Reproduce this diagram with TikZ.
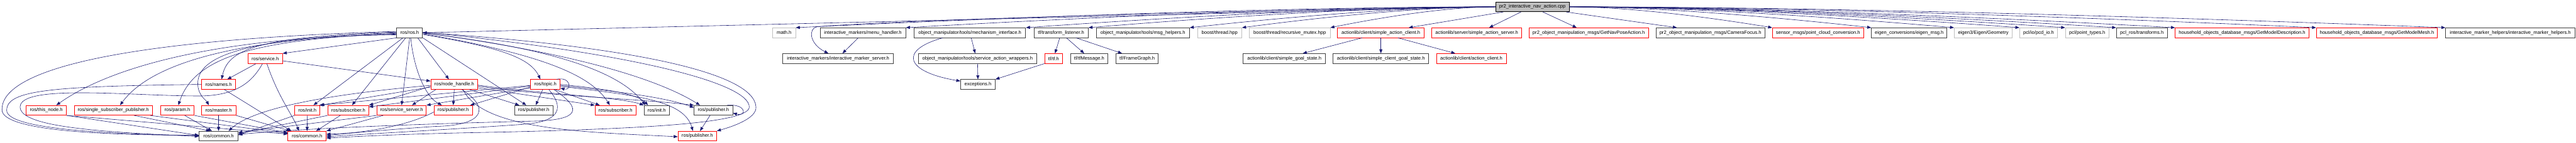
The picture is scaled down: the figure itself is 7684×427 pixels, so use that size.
\documentclass[tikz,border=0pt]{standalone}
\usepackage{fontspec}
\setmainfont{Liberation Sans}
\usetikzlibrary{arrows.meta}

\definecolor{depblue}{HTML}{191970}
\definecolor{incred}{HTML}{FF0000}
\definecolor{incgray}{HTML}{BFBFBF}
\definecolor{incdark}{HTML}{404040}

\tikzset{
  incfile/.style={draw, fill=white, line width=1.6pt, inner sep=0pt,
    minimum height=29pt, minimum width=#1pt,
    font=\fontsize{14.3}{17}\selectfont},
  redfile/.style={incfile=#1, draw=incred},
  docfile/.style={incfile=#1, draw=incdark},
  sysfile/.style={incfile=#1, draw=incgray},
  rootfile/.style={incfile=#1, draw=black, fill=incgray},
  dep/.style={draw=depblue, line width=1.1pt, -{Triangle[length=12pt,width=9pt]}}
}

\begin{document}
\begin{tikzpicture}[x=1pt,y=-1pt]
\useasboundingbox (0,0) rectangle (7684,427);

\node[rootfile=220] (root) at (4571,20.5) {pr2\_interactive\_nav\_action.cpp};

% direct includes
\node[docfile=77]  (ros)  at (1222,98) {ros/ros.h};
\node[sysfile=68]  (math) at (2339,98) {math.h};
\node[docfile=255] (menu) at (2574,98) {interactive\_markers/menu\_handler.h};
\node[docfile=333] (mech) at (2893,98) {object\_manipulator/tools/mechanism\_interface.h};
\node[docfile=162] (tfl)  at (3165,98) {tf/transform\_listener.h};
\node[docfile=278] (msgh) at (3409,98) {object\_manipulator/tools/msg\_helpers.h};
\node[sysfile=132] (bthr) at (3638,98) {boost/thread.hpp};
\node[sysfile=241] (bmtx) at (3847,98) {boost/thread/recursive\_mutex.hpp};
\node[redfile=258] (sac)  at (4119,98) {actionlib/client/simple\_action\_client.h};
\node[redfile=268] (sas)  at (4405,98) {actionlib/server/simple\_action\_server.h};
\node[redfile=357] (gnpa) at (4739,98) {pr2\_object\_manipulation\_msgs/GetNavPoseAction.h};
\node[docfile=324] (camf) at (5102,98) {pr2\_object\_manipulation\_msgs/CameraFocus.h};
\node[redfile=272] (pcc)  at (5423,98) {sensor\_msgs/point\_cloud\_conversion.h};
\node[docfile=225] (eigm) at (5695,98) {eigen\_conversions/eigen\_msg.h};
\node[sysfile=173] (eigg) at (5916,98) {eigen3/Eigen/Geometry};
\node[sysfile=113] (pcd)  at (6081,98) {pcl/io/pcd\_io.h};
\node[sysfile=130] (ptyp) at (6226,98) {pcl/point\_types.h};
\node[docfile=152] (pclr) at (6389,98) {pcl\_ros/transforms.h};
\node[redfile=399] (gmd)  at (6688,98) {household\_objects\_database\_msgs/GetModelDescription.h};
\node[redfile=361] (gmm)  at (7090,98) {household\_objects\_database\_msgs/GetModelMesh.h};
\node[docfile=386] (imh)  at (7488,98) {interactive\_marker\_helpers/interactive\_marker\_helpers.h};

% second level
\node[redfile=103] (srv)  at (791,175)  {ros/service.h};
\node[docfile=330] (ims)  at (2500,175) {interactive\_markers/interactive\_marker\_server.h};
\node[docfile=352] (saw)  at (2916,175) {object\_manipulator/tools/service\_action\_wrappers.h};
\node[redfile=54]  (tftf) at (3143,175) {tf/tf.h};
\node[docfile=111] (tfm)  at (3249,175) {tf/tfMessage.h};
\node[docfile=126] (frg)  at (3392,175) {tf/FrameGraph.h};
\node[docfile=245] (sgs)  at (3831,175) {actionlib/client/simple\_goal\_state.h};
\node[docfile=286] (scgs) at (4119,175) {actionlib/client/simple\_client\_goal\_state.h};
\node[redfile=208] (acl)  at (4389,175) {actionlib/client/action\_client.h};

\node[redfile=101] (names) at (652,252.5)  {ros/names.h};
\node[redfile=140] (nh)    at (1355,252.5) {ros/node\_handle.h};
\node[redfile=88]  (topic) at (1627,252.5) {ros/topic.h};
\node[docfile=103] (exc)   at (2917,252.5) {exceptions.h};

\node[redfile=120] (thisn)  at (138,330)  {ros/this\_node.h};
\node[redfile=233] (ssp)    at (338,330)  {ros/single\_subscriber\_publisher.h};
\node[redfile=100] (param)  at (529,330)  {ros/param.h};
\node[redfile=103] (master) at (652,330)  {ros/master.h};
\node[redfile=75]  (initr)  at (917,330)  {ros/init.h};
\node[redfile=122] (subr)   at (1039,330) {ros/subscriber.h};
\node[redfile=147] (ssrv)   at (1198,330) {ros/service\_server.h};
\node[redfile=114] (pubr)   at (1352,330) {ros/publisher.h};
\node[docfile=114] (pubb)   at (1592,330) {ros/publisher.h};
\node[redfile=122] (subr2)  at (1836,330) {ros/subscriber.h};
\node[docfile=76]  (initb)  at (1959,330) {ros/init.h};
\node[docfile=115] (pubb2)  at (2128,330) {ros/publisher.h};

\node[docfile=116] (comb)  at (652,407)  {ros/common.h};
\node[redfile=114] (comr)  at (916,407)  {ros/common.h};
\node[redfile=115] (pubr2) at (2080,407) {ros/publisher.h};

% root includes
\draw[dep] (root.west) -- (ros.east);
\foreach \n/\d in {math/626,menu/528,mech/420,tfl/364,msgh/274,bthr/227,bmtx/148}
  \draw[dep] (root.west) .. controls +(-\d,0) and +(\d,-30) .. (\n.north east);
\foreach \n/\d in {pcc/182,eigm/271,eigg/345,pcd/403,ptyp/444,pclr/490,gmd/542,gmm/669,imh/784}
  \draw[dep] (root.east) .. controls +(\d,0) and +(-\d,-30) .. (\n.north west);
\draw[dep] ([xshift=-87pt]root.south) -- ([xshift=83pt]sac.north);
\draw[dep] ([xshift=-34pt]root.south) -- ([xshift=37pt]sas.north);
\draw[dep] ([xshift=31pt]root.south) -- ([xshift=-36pt]gnpa.north);
\draw[dep] ([xshift=-10pt]root.south east) -- ([xshift=-100pt]camf.north);
\draw[dep] (root.west) .. controls (3500,35) and (2650,62) .. (2437,80) .. controls (2412,84) and (2412,130) .. ([xshift=-29pt]ims.north);

% ros/ros.h
\draw[dep] (ros.south west) -- (srv.north east);
\draw[dep] ([yshift=2pt]ros.west) .. controls (760,110) and (680,150) .. ([xshift=9pt]names.north);
\draw[dep] (ros.west) .. controls (720,115) and (590,170) .. (590,250) .. controls (590,285) and (615,300) .. ([xshift=-29pt]master.north);
\draw[dep] ([yshift=-2pt]ros.west) .. controls (760,118) and (580,170) .. ([xshift=3pt]param.north);
\draw[dep] ([yshift=-4pt]ros.west) .. controls (700,115) and (450,190) .. ([xshift=20pt]ssp.north);
\draw[dep] ([yshift=-6pt]ros.west) .. controls (650,110) and (330,200) .. ([xshift=30pt]thisn.north);
\draw[dep] ([yshift=4pt]ros.west) .. controls (300,120) and (0,220) .. (6,330) .. controls (10,390) and (300,405) .. ([yshift=3pt]comb.west);
\draw[dep] ([xshift=-20pt]ros.south) -- ([xshift=18pt]initr.north);
\draw[dep] ([xshift=-12pt]ros.south) -- ([xshift=11pt]subr.north);
\draw[dep] (ros.south) -- (ssrv.north);
\draw[dep] ([xshift=3pt]ros.south) .. controls (1235,210) and (1270,290) .. ([xshift=-34pt]pubr.north);
\draw[dep] ([xshift=24pt]ros.south) -- ([xshift=-16pt]nh.north);
\draw[dep] ([yshift=-5pt]ros.east) .. controls (1480,140) and (1580,170) .. ([xshift=-15pt]topic.north);
\draw[dep] (ros.south east) -- ([xshift=-22pt]pubb.north);
\draw[dep] ([yshift=-3pt]ros.east) .. controls (1600,160) and (1760,220) .. ([xshift=-17pt]subr2.north);
\draw[dep] ([yshift=-1pt]ros.east) .. controls (1700,150) and (1860,230) .. ([xshift=-34pt]initb.north);
\draw[dep] (ros.east) .. controls (1800,170) and (2000,260) .. ([xshift=-40pt]pubb2.north);
\draw[dep] ([yshift=1pt]ros.east) .. controls (1900,140) and (2250,220) .. (2255,320) .. controls (2258,355) and (2180,380) .. (pubr2.north east);
\draw[dep] ([yshift=2pt]ros.east) .. controls (1900,160) and (2235,250) .. (2235,320) .. controls (2235,370) and (1900,385) .. (1500,395) .. controls (1200,400) and (1050,409) .. ([yshift=-6pt]comr.east);

% ros/names.h, ros/service.h and the left headers
\draw[dep] (names.west) .. controls (150,258) and (20,270) .. (20,330) .. controls (20,385) and (300,400) .. ([yshift=1pt]comb.west);
\draw[dep] ([xshift=-8pt]srv.south) .. controls (750,250) and (700,285) .. (600,287) .. controls (400,288) and (60,250) .. (60,320) .. controls (60,380) and (300,395) .. ([yshift=-1pt]comb.west);
\draw[dep] ([xshift=-27pt]srv.south) -- ([xshift=26pt]names.north);
\draw[dep] ([xshift=5pt]srv.south) .. controls (830,290) and (870,340) .. ([xshift=-24pt]comr.north);
\draw[dep] ([yshift=-7pt]srv.east) -- ([yshift=10pt]nh.west);
\draw[dep] ([xshift=17pt]names.south) -- ([xshift=-47pt]comr.north);
\draw[dep] (thisn.south east) -- ([yshift=2pt]comb.west);
\draw[dep] (thisn.south east) -- ([yshift=6pt]comr.west);
\draw[dep] ([xshift=62pt]ssp.south) -- ([xshift=-25pt]comb.north);
\draw[dep] ([xshift=110pt]ssp.south) -- ([yshift=8pt]comr.west);
\draw[dep] ([xshift=22pt]param.south) -- ([xshift=-20pt]comb.north);
\draw[dep] (param.south east) -- ([yshift=10pt]comr.west);
\draw[dep] (master.south) -- (comb.north);
\draw[dep] (master.south east) -- ([xshift=-50pt]comr.north);

% ros/node_handle.h
\draw[dep] (nh.south) -- (pubr.north);
\draw[dep] ([xshift=45pt]nh.south) -- ([xshift=-43pt]pubb.north);
\draw[dep] ([yshift=-10pt]nh.east) -- (subr2.north west);
\draw[dep] ([yshift=-2pt]nh.east) .. controls (1600,280) and (1850,290) .. (initb.north west);
\draw[dep] ([yshift=-5pt]nh.east) .. controls (1600,285) and (1900,295) .. (pubb2.north west);
\draw[dep] ([xshift=26pt]nh.south) .. controls (1440,390) and (1750,395) .. ([yshift=-2pt]pubr2.west);
\draw[dep] ([xshift=22pt]nh.south) .. controls (1460,320) and (1450,375) .. (1300,378) .. controls (1150,388) and (1050,398) .. ([yshift=2pt]comr.east);
\draw[dep] ([yshift=-3pt]nh.west) .. controls (1000,280) and (760,320) .. ([xshift=30pt]comb.north);
\draw[dep] ([yshift=-8pt]nh.west) -- (initr.north east);
\draw[dep] ([yshift=-6pt]nh.west) -- (subr.north east);
\draw[dep] ([xshift=-55pt]nh.south) -- ([xshift=31pt]ssrv.north);

% ros/topic.h
\draw[dep] ([xshift=-12pt]topic.north east) .. controls (1705,228) and (1705,272) .. ([yshift=4pt]topic.south east);
\draw[dep] ([xshift=-8pt]topic.south) -- ([xshift=6pt]pubb.north);
\draw[dep] ([yshift=-8pt]topic.west) -- ([xshift=-7pt]pubr.north east);
\draw[dep] ([xshift=28pt]topic.south) -- ([xshift=-47pt]subr2.north);
\draw[dep] ([yshift=-3pt]topic.west) -- ([xshift=-3pt]initr.north east);
\draw[dep] ([yshift=-5pt]topic.west) -- ([yshift=-5pt]subr.north east);
\draw[dep] ([yshift=-10pt]topic.west) -- (ssrv.north east);
\draw[dep] ([xshift=10pt]topic.south) .. controls (1690,330) and (1660,365) .. (1560,372) .. controls (1300,390) and (1100,400) .. ([yshift=-2pt]comr.east);
\draw[dep] ([xshift=25pt]topic.south) .. controls (1745,330) and (1720,358) .. (1600,362) .. controls (1200,372) and (900,385) .. ([yshift=5pt]comb.east);
\draw[dep] (topic.east) .. controls (1800,265) and (1900,280) .. ([xshift=-26pt]initb.north);
\draw[dep] ([yshift=-3pt]topic.east) .. controls (1850,275) and (1980,290) .. ([yshift=-7pt]pubb2.north west);
\draw[dep] ([yshift=-6pt]topic.east) .. controls (1900,285) and (2040,300) .. ([xshift=-13pt]pubr2.north);

% lower ros headers
\draw[dep] ([yshift=-5pt]pubr.west) .. controls (1200,385) and (1050,400) .. ([yshift=6pt]comr.east);
\draw[dep] (initr.south) -- (comr.north);
\draw[dep] (initr.south west) -- ([yshift=3pt]comb.east);
\draw[dep] ([xshift=-24pt]subr.south) -- ([xshift=27pt]comr.north);
\draw[dep] (subr.south west) -- ([yshift=7pt]comb.east);
\draw[dep] ([xshift=-55pt]ssrv.south) -- (comr.north east);
\draw[dep] (ssrv.south west) -- ([yshift=11pt]comb.east);
\draw[dep] ([xshift=-10pt]pubb2.south) -- ([xshift=8pt]pubr2.north);
\draw[dep] ([xshift=-17pt]pubb2.north east) .. controls (2228,310) and (2228,350) .. ([yshift=-8pt]pubb2.east);

% markers, manipulator tools, tf, actionlib
\draw[dep] ([xshift=-14pt]menu.south) -- ([xshift=13pt]ims.north);
\draw[dep] ([xshift=4pt]mech.south) -- ([xshift=-7pt]saw.north);
\draw[dep] ([xshift=-81pt]mech.south) .. controls (2680,150) and (2700,215) .. ([yshift=10pt]exc.west);
\draw[dep] (saw.south) -- (exc.north);
\draw[dep] (tftf.south west) -- (exc.north east);
\draw[dep] ([xshift=-4pt]tfl.south) -- ([xshift=4pt]tftf.north);
\draw[dep] ([xshift=16pt]tfl.south) -- ([xshift=-15pt]tfm.north);
\draw[dep] ([xshift=45pt]tfl.south) -- ([xshift=-45pt]frg.north);
\draw[dep] ([xshift=-56pt]sac.south) -- ([xshift=55pt]sgs.north);
\draw[dep] (sac.south) -- (scgs.north);
\draw[dep] ([xshift=51pt]sac.south) -- ([xshift=-48pt]acl.north);
\end{tikzpicture}
\end{document}
